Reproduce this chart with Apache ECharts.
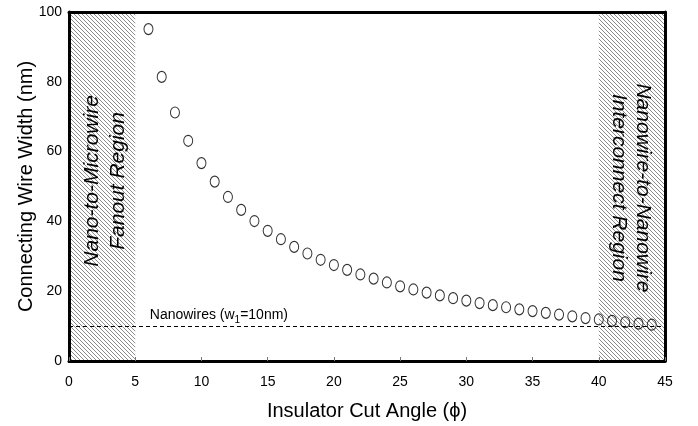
<!DOCTYPE html>
<html>
<head>
<meta charset="utf-8">
<script src="https://cdn.jsdelivr.net/npm/echarts@6/dist/echarts.min.js"></script>
<style>
  html, body { margin: 0; padding: 0; background: #fff; }
  #container { width: 698px; height: 426px; }
</style>
</head>
<body>
<div id="container"></div>
<script>
// insulator cut angle (deg) and connecting wire width (nm)
var angles = [6, 7, 8, 9, 10, 11, 12, 13, 14, 15, 16, 17, 18, 19, 20, 21, 22, 23, 24, 25,
  26, 27, 28, 29, 30, 31, 32, 33, 34, 35, 36, 37, 38, 39, 40, 41, 42, 43, 44];
var widths = [95.1, 81.4, 71.2, 63.1, 56.7, 51.4, 47.0, 43.3, 40.1, 37.3, 34.9, 32.7, 30.8, 29.0, 27.5,
  26.1, 24.8, 23.6, 22.5, 21.4, 20.5, 19.6, 18.8, 18.0, 17.3, 16.6, 16.0, 15.4, 14.8, 14.3,
  13.8, 13.3, 12.8, 12.3, 11.9, 11.5, 11.1, 10.7, 10.4];
var nanowireWidth = 10;
var fanoutRegion = [0, 5];
var interconnectRegion = [40, 45];

var FONT = "'Liberation Sans', Arial, sans-serif";

// diagonal hatch for the two shaded regions
function hatch() {
  var c = document.createElement("canvas");
  c.width = 4;
  c.height = 4;
  var ctx = c.getContext("2d");
  ctx.fillStyle = "#fff";
  ctx.fillRect(0, 0, 4, 4);
  ctx.strokeStyle = "#8c8c8c";
  ctx.lineWidth = 1;
  ctx.beginPath();
  ctx.moveTo(-1, -1); ctx.lineTo(5, 5);
  ctx.moveTo(-1, 3); ctx.lineTo(1, 5);
  ctx.moveTo(3, -1); ctx.lineTo(5, 1);
  ctx.stroke();
  return c;
}

var chart = echarts.init(document.getElementById("container"), null, { renderer: "canvas" });

var points = angles.map(function (a, i) { return [a, widths[i]]; });

var frameLine = { show: true, onZero: false, lineStyle: { color: "#000", width: 3 } };

var option = {
  animation: false,
  backgroundColor: "#fff",
  textStyle: { fontFamily: FONT },
  grid: {
    left: 69, right: 33, top: 12, bottom: 65,
    outerBoundsMode: "none",
    containLabel: false,
    show: false
  },
  xAxis: [
    {
      type: "value", min: 0, max: 45, interval: 5, z: 10,
      name: "Insulator Cut Angle (ϕ)",
      nameLocation: "middle", nameGap: 40,
      nameTextStyle: { fontSize: 20, color: "#000", fontFamily: FONT },
      axisLine: frameLine,
      axisTick: { show: true, inside: true, length: 4, lineStyle: { color: "#777" } },
      axisLabel: { fontSize: 14, color: "#000", margin: 14, fontFamily: FONT },
      splitLine: { show: false }
    },
    {
      type: "value", min: 0, max: 45, position: "top", z: 10,
      axisLine: frameLine, axisTick: { show: false }, axisLabel: { show: false },
      splitLine: { show: false }
    }
  ],
  yAxis: [
    {
      type: "value", min: 0, max: 100, interval: 20, z: 10,
      name: "Connecting Wire Width (nm)",
      nameLocation: "middle", nameGap: 33, nameMoveOverlap: false,
      nameTextStyle: { fontSize: 20, color: "#000", fontFamily: FONT },
      axisLine: frameLine,
      axisTick: { show: false },
      axisLabel: { fontSize: 14, color: "#000", margin: 7, fontFamily: FONT },
      splitLine: { show: false }
    },
    {
      type: "value", min: 0, max: 100, position: "right", z: 10,
      axisLine: frameLine, axisTick: { show: false }, axisLabel: { show: false },
      splitLine: { show: false }
    }
  ],
  series: [
    {
      type: "scatter",
      data: points,
      symbol: "circle",
      symbolSize: [9, 11],
      itemStyle: { color: "transparent", borderColor: "#000", borderWidth: 1.1 },
      z: 5,
      markArea: {
        silent: true,
        itemStyle: { color: { image: hatch(), repeat: "repeat" } },
        data: [
          [{ xAxis: fanoutRegion[0], yAxis: 0 }, { xAxis: fanoutRegion[1], yAxis: 100 }],
          [{ xAxis: interconnectRegion[0], yAxis: 0 }, { xAxis: interconnectRegion[1], yAxis: 100 }]
        ]
      },
      markLine: {
        silent: true,
        symbol: "none",
        label: { show: false },
        lineStyle: { color: "#000", width: 1, type: [4, 3] },
        data: [{ yAxis: nanowireWidth }]
      }
    }
  ]
};
chart.setOption(option);

var pL = chart.convertToPixel({ gridIndex: 0 }, [2.7, 51.6]);
var pR = chart.convertToPixel({ gridIndex: 0 }, [42.45, 49.6]);
var pN = chart.convertToPixel({ gridIndex: 0 }, [6.1, 13.2]);

chart.setOption({
  graphic: [
    {
      type: "text", x: pL[0], y: pL[1], rotation: Math.PI / 2, z: 10,
      style: {
        text: "Nano-to-Microwire\nFanout Region",
        fill: "#000", font: "italic 21px " + FONT,
        textAlign: "center", textVerticalAlign: "middle", lineHeight: 26
      }
    },
    {
      type: "text", x: pR[0], y: pR[1], rotation: -Math.PI / 2, z: 10,
      style: {
        text: "Nanowire-to-Nanowire\nInterconnect Region",
        fill: "#000", font: "italic 21px " + FONT,
        textAlign: "center", textVerticalAlign: "middle", lineHeight: 24
      }
    },
    {
      type: "text", x: pN[0], y: pN[1], z: 10,
      style: {
        text: "Nanowires (w{sub|1}=10nm)",
        fill: "#000", font: "14px " + FONT,
        textAlign: "left", textVerticalAlign: "middle",
        rich: {
          sub: { fontSize: 10, fontFamily: FONT, verticalAlign: "bottom", lineHeight: 20 }
        }
      }
    }
  ]
});
</script>
</body>
</html>
